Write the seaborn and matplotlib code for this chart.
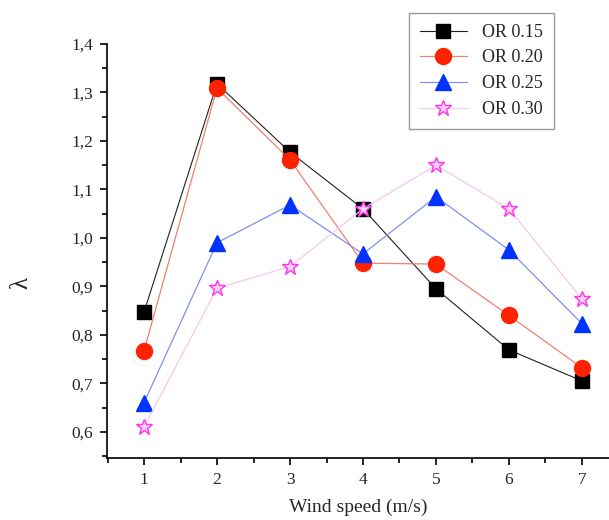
import matplotlib
matplotlib.use("Agg")
import matplotlib.pyplot as plt
from matplotlib.ticker import MultipleLocator, FuncFormatter, FixedLocator
from matplotlib.lines import Line2D
import seaborn as sns
import pandas as pd

wind_speed = [1, 2, 3, 4, 5, 6, 7]
or_015 = [0.847, 1.318, 1.177, 1.060, 0.895, 0.769, 0.705]
or_020 = [0.767, 1.309, 1.161, 0.948, 0.946, 0.840, 0.732]
or_025 = [0.660, 0.990, 1.068, 0.967, 1.085, 0.975, 0.823]
or_030 = [0.610, 0.896, 0.941, 1.060, 1.150, 1.060, 0.874]
labels = ["OR 0.15", "OR 0.20", "OR 0.25", "OR 0.30"]
y_ticks = [0.6, 0.7, 0.8, 0.9, 1.0, 1.1, 1.2, 1.3, 1.4]

series = [or_015, or_020, or_025, or_030]
df = pd.concat([pd.DataFrame({"x": wind_speed, "y": s, "series": lab})
                for s, lab in zip(series, labels)], ignore_index=True)

sns.set_style("ticks")
plt.rcParams["font.family"] = ["Liberation Serif", "DejaVu Serif"]
plt.rcParams["xtick.direction"] = "out"
plt.rcParams["ytick.direction"] = "out"

fig = plt.figure(figsize=(6.09, 5.2), dpi=100)
ax = fig.add_axes([107/609, 62/520, 502/609, 414/520])

styles = [
    dict(line="#202020", mk="s", mfc="black", mec="black", ms=10, lw=0.8),
    dict(line="#f08070", mk="o", mfc="#ff2200", mec="#ff2200", ms=11.5, lw=0.9),
    dict(line="#8090f0", mk="^", mfc="#0033ff", mec="#0033ff", ms=12, lw=0.9),
    dict(line="#f5c8ee", mk="*", mfc="#ffd0f8", mec="#ff33ee", ms=12, lw=0.9),
]

handles = []
for lab, st in zip(labels, styles):
    sub = df[df["series"] == lab]
    sns.lineplot(data=sub, x="x", y="y", ax=ax, color=st["line"], lw=st["lw"],
                 marker=st["mk"], markersize=st["ms"], markerfacecolor=st["mfc"],
                 markeredgecolor=st["mec"], markeredgewidth=1.0, legend=False,
                 zorder=3)
    handles.append(Line2D([], [], color=st["line"], lw=st["lw"], marker=st["mk"],
                          markersize=st["ms"], markerfacecolor=st["mfc"],
                          markeredgecolor=st["mec"], markeredgewidth=1.0))

ax.set_xlim(0.493, 7.37)
ax.set_ylim(0.546, 1.4)
ax.xaxis.set_major_locator(FixedLocator(wind_speed))
ax.xaxis.set_minor_locator(MultipleLocator(0.5))
ax.yaxis.set_major_locator(FixedLocator(y_ticks))
ax.yaxis.set_minor_locator(MultipleLocator(0.05))
ax.yaxis.set_major_formatter(FuncFormatter(lambda v, p: f"{v:.1f}".replace(".", ",")))
ax.xaxis.set_major_formatter(FuncFormatter(lambda v, p: f"{int(round(v))}"))
ax.tick_params(which="major", length=5, width=1.2, labelsize=12.5, color="black", pad=5)
ax.tick_params(which="minor", length=3.5, width=1.2, color="black")
for s in ["top", "right"]:
    ax.spines[s].set_visible(False)
for s in ["left", "bottom"]:
    ax.spines[s].set_linewidth(1.2)
    ax.spines[s].set_color("black")

ax.set_xlabel("Wind speed (m/s)", fontsize=14, labelpad=8)
ax.set_ylabel("λ", fontsize=18, rotation=90)
ax.yaxis.label.set_verticalalignment("center")
ax.yaxis.label.set_horizontalalignment("center")
ax.yaxis.set_label_coords(-0.171, 0.423)

leg = fig.legend(handles, labels, loc="upper left", bbox_to_anchor=(409/609, 1 - 13/520),
                 frameon=True, fancybox=False, fontsize=13, handlelength=2.6,
                 handletextpad=0.85, labelspacing=0.48, borderpad=0.6, borderaxespad=0)
leg.get_frame().set_edgecolor("#808080")
leg.get_frame().set_linewidth(1.0)

fig.savefig("out.png", dpi=100)
